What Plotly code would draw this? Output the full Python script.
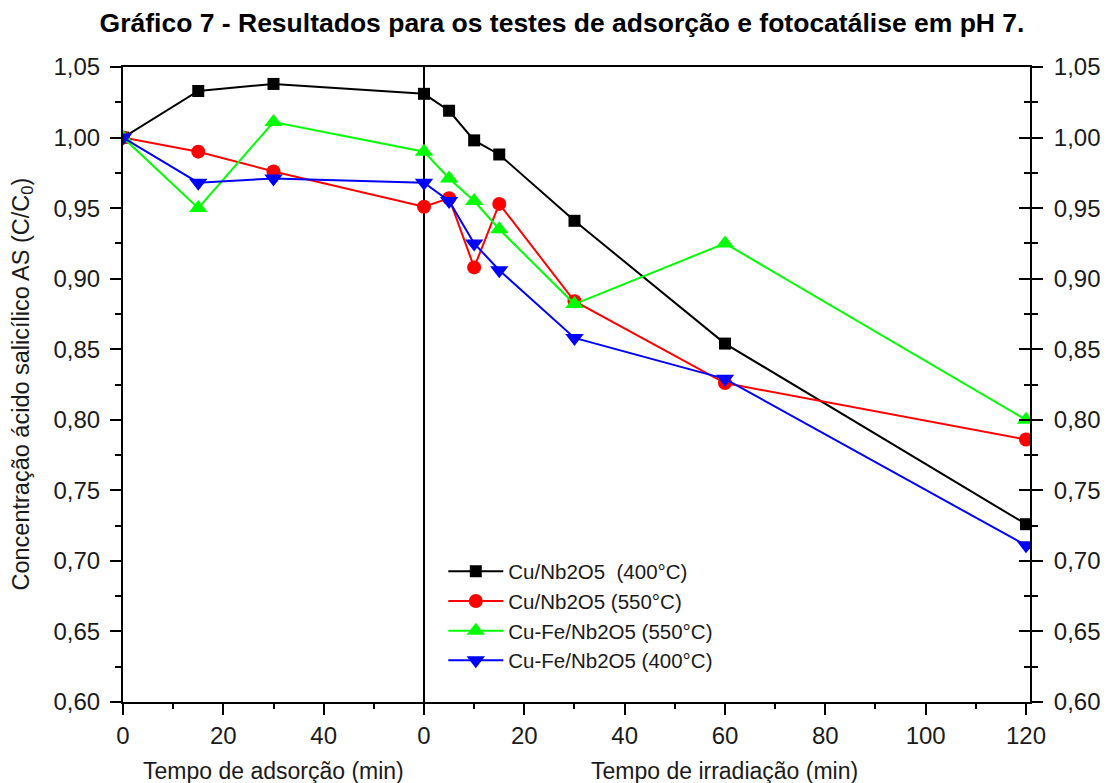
import plotly.graph_objects as go

# Time axis: adsorption 0-60 min, then irradiation 0-120 min placed after it (offset 60)
t_adsorption = [0, 15, 30, 60]
t_irradiation = [5, 10, 15, 30, 60, 120]
IRR_OFFSET = 60
time_axis = t_adsorption + [IRR_OFFSET + t for t in t_irradiation]

series_names = [
    "Cu/Nb2O5\u00a0 (400°C)",
    "Cu/Nb2O5 (550°C)",
    "Cu-Fe/Nb2O5 (550°C)",
    "Cu-Fe/Nb2O5 (400°C)",
]

cu_400 = [1.000, 1.033, 1.038, 1.031, 1.019, 0.998, 0.988, 0.941, 0.854, 0.726]
cu_550 = [1.000, 0.990, 0.976, 0.951, 0.957, 0.908, 0.953, 0.884, 0.826, 0.786]
cufe_550 = [1.000, 0.950, 1.011, 0.990, 0.971, 0.955, 0.935, 0.882, 0.925, 0.800]
cufe_400 = [1.000, 0.968, 0.971, 0.968, 0.955, 0.925, 0.906, 0.858, 0.829, 0.711]

x_tick_values = [0, 20, 40, 60, 80, 100, 120, 140, 160, 180]
x_tick_labels = ["0", "20", "40", "0", "20", "40", "60", "80", "100", "120"]

FONT = "Liberation Sans, Arial, sans-serif"
TXT = "#1a1a1a"

styles = [
    dict(color="#000000", symbol="square", size=12),
    dict(color="#FF0000", symbol="circle", size=14),
    dict(color="#00FF00", symbol="triangle-up", size=16),
    dict(color="#0000FF", symbol="triangle-down", size=16),
]

fig = go.Figure()
for i, (name, vals, st) in enumerate(zip(series_names,
                                         [cu_400, cu_550, cufe_550, cufe_400],
                                         styles)):
    fig.add_trace(go.Scatter(
        x=time_axis, y=vals, name=name, mode="lines+markers",
        line=dict(color=st["color"], width=2),
        marker=dict(color=st["color"], symbol=st["symbol"], size=st["size"],
                    line=dict(width=0)),
        legendgroup=f"g{i}",
    ))

# boundary between the adsorption and irradiation stages
fig.add_shape(type="line", x0=IRR_OFFSET, x1=IRR_OFFSET, xref="x",
              y0=0, y1=1, yref="paper", line=dict(color="black", width=2),
              layer="below")

y_common = dict(range=[0.6, 1.05], dtick=0.05, tick0=0.6, tickformat=".2f",
                showgrid=False, zeroline=False, showline=True,
                linecolor="black", linewidth=2, tickcolor="black",
                tickwidth=1.5, tickfont=dict(family=FONT, size=24, color=TXT))

fig.update_layout(
    width=1113, height=783,
    margin=dict(l=123, r=81, t=67, b=81),
    paper_bgcolor="white", plot_bgcolor="white",
    separators=",.",
    font=dict(family=FONT, color=TXT),
    title=dict(text="<b>Gráfico 7 - Resultados para os testes de adsorção e fotocatálise em pH 7.</b>",
               x=(97 + 1027) / 2 / 1113, xanchor="center", y=1 - 23 / 783, yanchor="middle",
               font=dict(family=FONT, size=26.5, color="black")),
    xaxis=dict(range=[0, 180.8], tickvals=x_tick_values, ticktext=x_tick_labels,
               showgrid=False, zeroline=False, showline=True, mirror=True,
               linecolor="black", linewidth=2, ticks="outside", ticklen=11,
               tickwidth=1.5, tickcolor="black", ticklabelstandoff=0,
               tickfont=dict(family=FONT, size=24, color=TXT),
               minor=dict(dtick=10, tick0=0, ticks="outside", ticklen=5,
                          tickwidth=1.5, tickcolor="black")),
    yaxis=dict(**y_common, ticks="outside", ticklen=11, ticklabelstandoff=5,
               minor=dict(dtick=0.025, tick0=0.6, ticks="outside", ticklen=6,
                          tickwidth=1.5, tickcolor="black")),
    yaxis2=dict(**y_common, overlaying="y", side="right", anchor="x",
                ticks="outside", ticklen=11, ticklabelstandoff=6,
                minor=dict(dtick=0.025, tick0=0.6, ticks="outside", ticklen=6,
                           tickwidth=1.5, tickcolor="black")),
    yaxis3=dict(range=[0.6, 1.05], dtick=0.05, tick0=0.6, overlaying="y",
                side="right", anchor="x", showgrid=False, zeroline=False,
                showline=False, showticklabels=False, ticks="inside",
                ticklen=11, tickwidth=1.5, tickcolor="black",
                minor=dict(dtick=0.025, tick0=0.6, ticks="inside", ticklen=6,
                           tickwidth=1.5, tickcolor="black")),
    legend=dict(x=(444 - 123) / 909, y=0.237, xanchor="left", yanchor="top",
                bgcolor="rgba(0,0,0,0)", borderwidth=0, itemwidth=55,
                font=dict(family=FONT, size=20.5, color=TXT),
                traceorder="grouped", tracegroupgap=0),
    showlegend=True,
)

# invisible traces so the right-hand axes get drawn
fig.add_trace(go.Scatter(x=[None], y=[None], yaxis="y2", showlegend=False, hoverinfo="skip"))
fig.add_trace(go.Scatter(x=[None], y=[None], yaxis="y3", showlegend=False, hoverinfo="skip"))

fig.add_annotation(text="Tempo de adsorção (min)", x=30, xref="x", y=0,
                   yref="paper", yanchor="middle", yshift=-69, showarrow=False,
                   font=dict(family=FONT, size=23, color=TXT))
fig.add_annotation(text="Tempo de irradiação (min)", x=120, xref="x", y=0,
                   yref="paper", yanchor="middle", yshift=-69, showarrow=False,
                   font=dict(family=FONT, size=23, color=TXT))
fig.add_annotation(text="Concentração ácido salicílico AS (C/C<sub>0</sub>)",
                   textangle=-90, x=0, xref="paper", xanchor="center", xshift=-101,
                   y=0.5, yref="paper", yanchor="middle", showarrow=False,
                   font=dict(family=FONT, size=23.5, color=TXT))

fig.write_html("out.html")
